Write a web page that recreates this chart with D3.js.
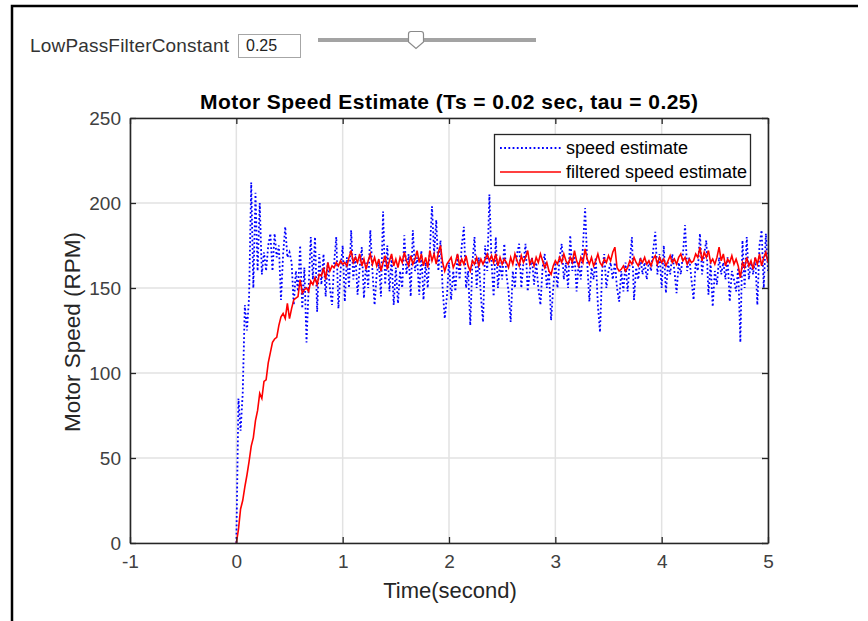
<!DOCTYPE html>
<html>
<head>
<meta charset="utf-8">
<script src="https://cdn.jsdelivr.net/npm/d3@7"></script>
<style>
  body { margin: 0; background: #fff; }
  svg { display: block; font-family: "Liberation Sans", Arial, Helvetica, sans-serif; }
</style>
</head>
<body>
<svg id="chart" width="868" height="621"></svg>
<script>
// sample time and axis setup
const Ts = 0.02
const xTicks = [-1, 0, 1, 2, 3, 4, 5]
const yTicks = [0, 50, 100, 150, 200, 250]
const legendLabels = ["speed estimate", "filtered speed estimate"]
const filterConstant = "0.25"

// raw speed estimate (RPM), one value per Ts starting at t = 0
const speed = [
  0, 85, 66, 88, 140, 125, 145, 212, 150, 206,
  160, 200, 158, 171, 160, 175, 182, 160, 182, 168,
  175, 143, 170, 186, 168, 171, 165, 140, 160, 148,
  175, 138, 162, 118, 150, 180, 155, 180, 136, 170,
  152, 170, 145, 165, 150, 140, 165, 180, 138, 160,
  175, 142, 168, 150, 184, 155, 170, 146, 162, 174,
  144, 165, 150, 184, 160, 140, 158, 165, 145, 195,
  152, 175, 148, 168, 140, 162, 141, 160, 150, 181,
  158, 170, 145, 184, 160, 168, 146, 172, 143, 165,
  150, 172, 198, 170, 190, 160, 178, 150, 132, 145,
  165, 143, 160, 148, 170, 155, 175, 186, 150, 160,
  128, 165, 180, 150, 168, 145, 130, 175, 160, 205,
  165, 145, 180, 150, 165, 155, 176, 158, 148, 130,
  160, 150, 170, 176, 150, 165, 176, 148, 160, 168,
  152, 165, 150, 140, 162, 170, 150, 160, 131, 150,
  165, 150, 168, 176, 155, 165, 150, 181, 160, 170,
  148, 165, 155, 175, 197, 165, 142, 162, 155, 168,
  140, 124, 160, 170, 150, 160, 165, 155, 165, 150,
  142, 160, 148, 165, 148, 165, 180, 143, 162, 155,
  168, 158, 165, 155, 166, 160, 172, 183, 158, 170,
  150, 175, 147, 165, 158, 170, 160, 147, 165, 158,
  170, 187, 160, 168, 155, 143, 165, 160, 182, 158,
  170, 178, 146, 165, 139, 160, 152, 168, 158, 165,
  155, 168, 142, 160, 155, 148, 162, 118, 178, 150,
  180, 155, 165, 158, 168, 140, 175, 184, 150, 182,
  160
]

// low pass filtered speed estimate (RPM)
const filtered = [
  0, 8, 20, 25, 33, 40, 48, 57, 62, 72,
  78, 88, 85, 95, 96, 106, 112, 118, 120, 121,
  128, 133, 135, 132, 141, 132, 138, 143, 144, 145,
  155, 147, 149, 150, 148, 154, 152, 156, 152, 158,
  157, 162, 155, 165, 160, 163, 162, 165, 163, 166,
  164, 165, 163, 168, 172, 165,
  168, 165, 170, 163, 167, 161, 166, 170, 164, 168,
  163, 167, 160, 165, 169, 161, 166, 170, 163, 167,
  162, 168, 165, 171, 166, 163, 169, 164, 167, 172,
  165, 170, 163, 168, 162, 172, 166, 170, 164, 171,
  175, 165, 160, 164, 166, 168, 162, 165, 170, 163,
  167, 164, 169, 163, 160, 166, 164, 168, 163, 167,
  164, 167, 170, 166, 169, 165, 170, 163, 168, 164,
  167, 165, 162, 168, 164, 170, 166, 163, 169, 165,
  168, 172, 164, 167, 163, 168, 165, 170, 166, 162,
  165, 160, 158, 163, 166, 164, 168, 165, 170, 166,
  164, 168, 165, 172, 166, 163, 168, 165, 173, 167,
  164, 168, 163, 166, 170, 165, 163, 167, 165, 169,
  166, 171, 174, 162, 160, 161, 163, 160, 162, 166,
  164, 168, 165, 163, 167, 165, 168, 164, 166, 163,
  167, 169, 164, 168, 165, 167, 163, 166, 169, 165,
  167, 164, 168, 170, 166, 168, 164, 167, 165, 166,
  170, 168, 174, 166, 171, 168, 172, 165, 167, 164,
  168, 174, 166, 170, 163, 167, 165, 169, 164, 167,
  163, 156, 165, 162, 168, 163, 166, 161, 168, 164,
  170, 163, 168, 171, 165
]

const axis_color = "#262626"
const svg = d3.select("#chart")

// outer figure border (only top and left visible)
svg.append("path")
  .attr("d", "M12,621V6H858")
  .attr("fill", "none")
  .attr("stroke", "#000")
  .attr("stroke-width", 2.5)

// ui control row
svg.append("text")
  .attr("x", 30).attr("y", 52)
  .style("font-size", "19px")
  .attr("fill", "#333")
  .attr("textLength", 199)
  .text("LowPassFilterConstant")

svg.append("rect")
  .attr("x", 238.5).attr("y", 34.5)
  .attr("width", 62).attr("height", 23)
  .attr("fill", "#fff")
  .attr("stroke", "#a6a6a6")

svg.append("text")
  .attr("x", 246).attr("y", 51)
  .style("font-size", "16px")
  .attr("fill", "#222")
  .text(filterConstant)

svg.append("line")
  .attr("x1", 318).attr("x2", 536)
  .attr("y1", 40).attr("y2", 40)
  .attr("stroke", "#a3a3a3")
  .attr("stroke-width", 4)

svg.append("path")
  .attr("d", "M408.5,34 Q408.5,31.5 411,31.5 H421 Q423.5,31.5 423.5,34 V42 L416,48.5 L408.5,42 Z")
  .attr("fill", "#fff")
  .attr("stroke", "#8a8a8a")
  .attr("stroke-width", 1.2)

// scales
const x = d3.scaleLinear().domain([-1, 5]).range([130, 768])
const y = d3.scaleLinear().domain([0, 250]).range([543, 118])

// grid
const grid = svg.append("g")
grid.selectAll(".vgrid")
  .data(xTicks)
  .join("line")
  .attr("x1", d => x(d)).attr("x2", d => x(d))
  .attr("y1", y(0)).attr("y2", y(250))
  .attr("stroke", "#e2e2e2")
  .attr("stroke-width", 1.5)
grid.selectAll(".hgrid")
  .data(yTicks)
  .join("line")
  .attr("class", "hgrid")
  .attr("x1", x(-1)).attr("x2", x(5))
  .attr("y1", d => y(d)).attr("y2", d => y(d))
  .attr("stroke", "#e2e2e2")
  .attr("stroke-width", 1.5)

// data lines
svg.append("clipPath").attr("id", "plot-clip")
  .append("rect")
  .attr("x", x(-1)).attr("y", y(250))
  .attr("width", x(5) - x(-1)).attr("height", y(0) - y(250))

const line = d3.line()
  .x((d, i) => x(i * Ts))
  .y(d => y(d))

svg.append("path")
  .datum(speed)
  .attr("clip-path", "url(#plot-clip)")
  .attr("d", line)
  .attr("fill", "none")
  .attr("stroke", "#0000ff")
  .attr("stroke-width", 1.8)
  .attr("stroke-dasharray", "1.8,2.4")

svg.append("path")
  .datum(filtered)
  .attr("clip-path", "url(#plot-clip)")
  .attr("d", line)
  .attr("fill", "none")
  .attr("stroke", "#ff0000")
  .attr("stroke-width", 1.6)

// axes (ticks pointing inward, box on)
const style_axis = (g, show_labels) => {
  g.select(".domain").attr("stroke", axis_color).attr("stroke-width", 1.6)
  g.selectAll(".tick line").attr("stroke", axis_color).attr("stroke-width", 1.3)
  g.selectAll(".tick text")
    .attr("fill", "#404040")
    .attr("font-family", null)
    .style("font-size", "19px")
    .style("display", show_labels ? null : "none")
}

svg.append("g")
  .attr("transform", `translate(0,${y(0)})`)
  .call(d3.axisBottom(x).tickValues(xTicks).tickFormat(d => String(d)).tickSize(-6).tickSizeOuter(0).tickPadding(12))
  .call(g => style_axis(g, true))

svg.append("g")
  .attr("transform", `translate(0,${y(250)})`)
  .call(d3.axisTop(x).tickValues(xTicks).tickSize(-6).tickSizeOuter(0))
  .call(g => style_axis(g, false))

svg.append("g")
  .attr("transform", `translate(${x(-1)},0)`)
  .call(d3.axisLeft(y).tickValues(yTicks).tickSize(-6).tickSizeOuter(0).tickPadding(9))
  .call(g => style_axis(g, true))

svg.append("g")
  .attr("transform", `translate(${x(5)},0)`)
  .call(d3.axisRight(y).tickValues(yTicks).tickSize(-6).tickSizeOuter(0))
  .call(g => style_axis(g, false))

// title and labels
svg.append("text")
  .attr("x", 449).attr("y", 109)
  .attr("text-anchor", "middle")
  .style("font-size", "21px")
  .style("font-weight", "bold")
  .attr("fill", "#000")
  .attr("textLength", 498)
  .text("Motor Speed Estimate (Ts = 0.02 sec, tau = 0.25)")

svg.append("text")
  .attr("x", 450).attr("y", 598)
  .attr("text-anchor", "middle")
  .style("font-size", "22px")
  .attr("fill", axis_color)
  .text("Time(second)")

svg.append("text")
  .attr("transform", "translate(80,332) rotate(-90)")
  .attr("text-anchor", "middle")
  .style("font-size", "22.5px")
  .attr("fill", axis_color)
  .text("Motor Speed (RPM)")

// legend
const legend = svg.append("g").attr("transform", "translate(494,134)")
legend.append("rect")
  .attr("x", 0.5).attr("y", 0.5)
  .attr("width", 256).attr("height", 51)
  .attr("fill", "#fff")
  .attr("stroke", axis_color)
  .attr("stroke-width", 1.3)

const legend_styles = [
  { color: "#0000ff", dash: "1.8,2.4", width: 1.8 },
  { color: "#ff0000", dash: null, width: 1.6 }
]
legend.selectAll(".entry")
  .data(legendLabels)
  .join("g")
  .attr("transform", (d, i) => `translate(0,${14 + i * 24})`)
  .each(function (d, i) {
    const g = d3.select(this)
    g.append("line")
      .attr("x1", 6).attr("x2", 67)
      .attr("stroke", legend_styles[i].color)
      .attr("stroke-width", legend_styles[i].width)
      .attr("stroke-dasharray", legend_styles[i].dash)
    g.append("text")
      .attr("x", 72).attr("y", 6)
      .style("font-size", "18px")
      .attr("fill", "#000")
      .text(d)
  })
</script>
</body>
</html>
